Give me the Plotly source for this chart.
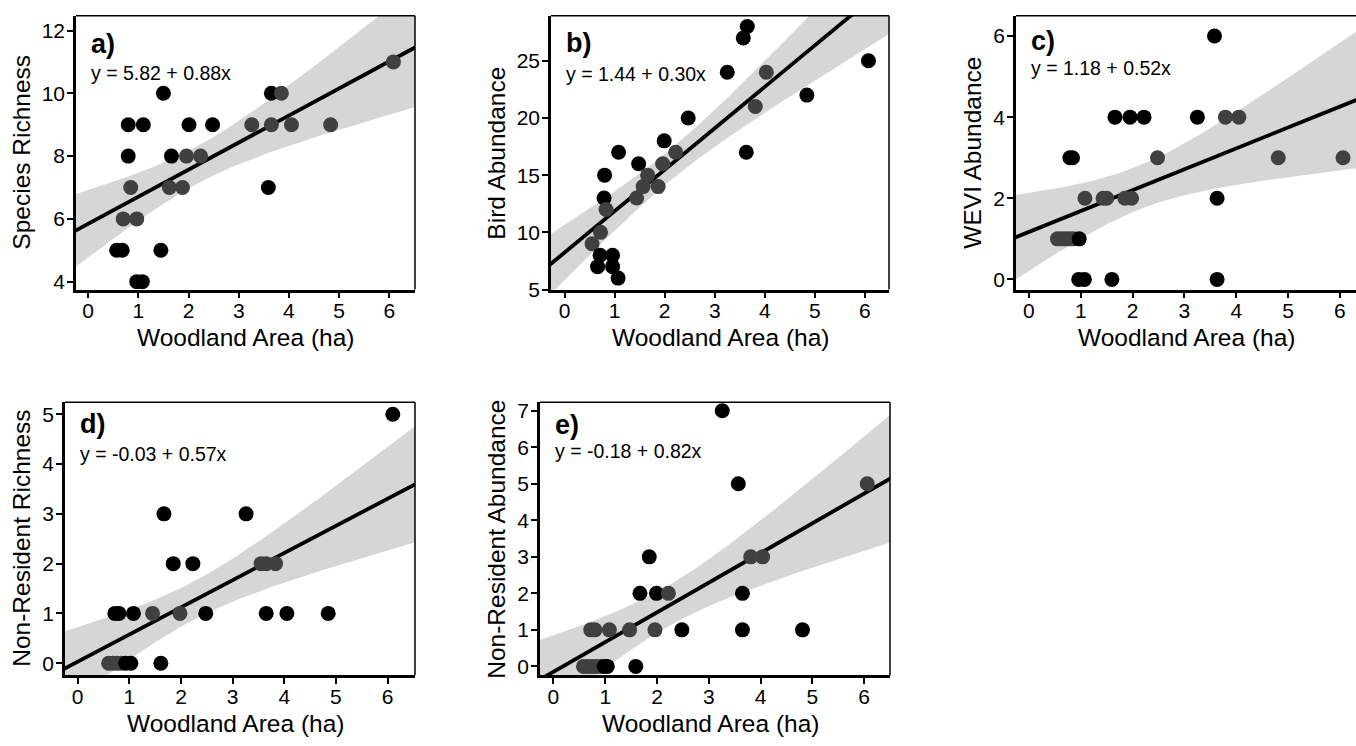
import numpy as np
import plotly.graph_objects as go

W, H = 1356, 746

# ---------------- data ----------------
# group: 1 = black point, 0 = dark-grey point
a_x = [6.08, 1.50, 3.65, 3.85, 0.80, 1.10, 2.01, 2.48, 3.26, 3.65, 4.05, 4.83, 0.80, 1.66, 1.96, 2.24,
       0.85, 1.62, 1.88, 3.59, 0.70, 0.97, 0.57, 0.68, 1.45, 0.97, 1.08]
a_y = [11, 10, 10, 10, 9, 9, 9, 9, 9, 9, 9, 9, 8, 8, 8, 8, 7, 7, 7, 7, 6, 6, 5, 5, 5, 4, 4]
a_g = [0, 1, 1, 0, 1, 1, 1, 1, 0, 0, 0, 0, 1, 1, 0, 0, 0, 0, 0, 1, 0, 0, 1, 1, 1, 1, 1]

b_x = [3.65, 3.57, 6.07, 3.25, 4.03, 4.84, 3.81, 2.47, 1.99, 1.08, 2.22, 3.63, 1.48, 1.96, 0.80, 1.66,
       1.57, 1.87, 1.44, 0.79, 0.83, 0.72, 0.55, 0.71, 0.96, 0.66, 0.96, 1.07]
b_y = [28, 27, 25, 24, 24, 22, 21, 20, 18, 17, 17, 17, 16, 16, 15, 15, 14, 14, 13, 13, 12, 10, 9, 8, 8, 7, 7, 6]
b_g = [1, 1, 1, 1, 0, 1, 0, 1, 1, 1, 0, 1, 1, 0, 1, 0, 0, 0, 0, 1, 0, 0, 0, 1, 1, 1, 1, 1]

c_x = [3.58, 1.66, 1.95, 2.22, 3.25, 3.79, 4.05, 0.79, 0.84, 2.48, 4.81, 6.06, 1.08, 1.43, 1.50, 1.85,
       1.98, 3.63, 0.55, 0.63, 0.71, 0.79, 0.86, 0.97, 0.96, 1.07, 1.60, 3.63]
c_y = [6, 4, 4, 4, 4, 4, 4, 3, 3, 3, 3, 3, 2, 2, 2, 2, 2, 2, 1, 1, 1, 1, 1, 1, 0, 0, 0, 0]
c_g = [1, 1, 1, 1, 1, 0, 0, 1, 1, 0, 0, 0, 0, 0, 0, 0, 0, 1, 0, 0, 0, 0, 0, 1, 1, 1, 1, 1]

d_x = [6.10, 1.67, 3.26, 1.85, 2.23, 3.55, 3.65, 3.83, 0.72, 0.80, 1.08, 1.45, 1.98, 2.48, 3.65, 4.05,
       4.85, 0.60, 0.68, 0.76, 0.84, 0.93, 1.03, 1.61]
d_y = [5, 3, 3, 2, 2, 2, 2, 2, 1, 1, 1, 1, 1, 1, 1, 1, 1, 0, 0, 0, 0, 0, 0, 0]
d_g = [1, 1, 1, 1, 1, 0, 0, 0, 1, 1, 1, 0, 0, 1, 1, 1, 1, 0, 0, 0, 0, 1, 1, 1]

e_x = [3.26, 3.57, 6.06, 1.85, 3.81, 4.04, 1.67, 1.99, 2.22, 3.65, 0.72, 0.80, 1.08, 1.47, 1.96, 2.48,
       3.65, 4.81, 0.58, 0.66, 0.74, 0.82, 0.90, 0.98, 1.04, 1.59]
e_y = [7, 5, 5, 3, 3, 3, 2, 2, 2, 2, 1, 1, 1, 1, 1, 1, 1, 1, 0, 0, 0, 0, 0, 0, 0, 0]
e_g = [1, 1, 0, 1, 0, 0, 1, 1, 0, 1, 0, 0, 0, 0, 0, 1, 1, 1, 0, 0, 0, 0, 0, 1, 1, 1]

x_ticks = [0, 1, 2, 3, 4, 5, 6]
y_ticks = {
    "a": [4, 6, 8, 10, 12],
    "b": [5, 10, 15, 20, 25],
    "c": [0, 2, 4, 6],
    "d": [0, 1, 2, 3, 4, 5],
    "e": [0, 1, 2, 3, 4, 5, 6, 7],
}
y_titles = {
    "a": "Species Richness",
    "b": "Bird Abundance",
    "c": "WEVI Abundance",
    "d": "Non-Resident Richness",
    "e": "Non-Resident Abundance",
}
equations = {
    "a": "y = 5.82 + 0.88x",
    "b": "y = 1.44 + 0.30x",
    "c": "y = 1.18 + 0.52x",
    "d": "y = -0.03 + 0.57x",
    "e": "y = -0.18 + 0.82x",
}
x_title = "Woodland Area (ha)"

# ---------------- layout geometry (pixels) ----------------
panels = [
    # key, data, box (left, top, right, bottom), x range, y range, ytitle offset, label dy, eq dy, right border
    ("a", (a_x, a_y, a_g), (76, 13, 415, 292), (-0.24, 6.51), (3.75, 12.47), 54, 29, 58, True),
    ("b", (b_x, b_y, b_g), (551, 13, 889, 292), (-0.27, 6.48), (5.0, 28.94), 54, 28, 59, True),
    ("c", (c_x, c_y, c_g), (1016, 13, 1356, 292), (-0.25, 6.31), (-0.25, 6.5), 43, 26, 53, False),
    ("d", (d_x, d_y, d_g), (65, 407, 415, 685), (-0.245, 6.53), (-0.24, 5.24), 43, 22, 53, True),
    ("e", (e_x, e_y, e_g), (540, 407, 890, 685), (-0.26, 6.50), (-0.24, 7.23), 43, 23, 50, True),
]

T_CRIT = 2.06
FONT = "Liberation Sans, Arial, Helvetica, sans-serif"
BAND = "#d6d6d6"
GREY_PT = "#404040"

fig = go.Figure()
layout = dict(
    width=W, height=H, margin=dict(l=0, r=0, t=0, b=0),
    paper_bgcolor="white", plot_bgcolor="white", showlegend=False,
    font=dict(family=FONT, color="black"),
)
annotations = []
shapes = []

for i, (key, (xs, ys, gs), (L, T, R, B), xr, yr, yoff, ldy, edy, rborder) in enumerate(panels):
    n = i + 1
    xa = "x" if n == 1 else f"x{n}"
    ya = "y" if n == 1 else f"y{n}"
    xs_a = np.array(xs, float)
    ys_a = np.array(ys, float)

    # least-squares fit with 95% confidence band
    slope, intercept = np.polyfit(xs_a, ys_a, 1)
    resid = ys_a - (intercept + slope * xs_a)
    npts = len(xs_a)
    s = np.sqrt(np.sum(resid ** 2) / (npts - 2))
    xm = xs_a.mean()
    sxx = np.sum((xs_a - xm) ** 2)
    grid = np.linspace(xr[0] - 0.05, xr[1] + 0.05, 120)
    fit = intercept + slope * grid
    se = s * np.sqrt(1.0 / npts + (grid - xm) ** 2 / sxx)
    up, lo = fit + T_CRIT * se, fit - T_CRIT * se

    fig.add_trace(go.Scatter(
        x=np.concatenate([grid, grid[::-1]]), y=np.concatenate([up, lo[::-1]]),
        fill="toself", fillcolor=BAND, line=dict(width=0), mode="lines",
        hoverinfo="skip", xaxis=xa, yaxis=ya))
    fig.add_trace(go.Scatter(
        x=grid, y=fit, mode="lines", line=dict(color="black", width=3.8),
        xaxis=xa, yaxis=ya))
    cols = ["black" if g == 1 else GREY_PT for g in gs]
    fig.add_trace(go.Scatter(
        x=xs, y=ys, mode="markers",
        marker=dict(size=15, color=cols, line=dict(width=0)),
        xaxis=xa, yaxis=ya))

    axis_common = dict(
        showgrid=False, zeroline=False, showline=True, linecolor="black", linewidth=2.5,
        ticks="outside", ticklen=6, tickwidth=2, tickcolor="black",
        tickfont=dict(family=FONT, size=21, color="black"),
    )
    layout["xaxis" if n == 1 else f"xaxis{n}"] = dict(
        domain=[L / W, R / W], range=list(xr), tickvals=x_ticks,
        anchor=ya, ticklabelstandoff=-5, **axis_common)
    layout["yaxis" if n == 1 else f"yaxis{n}"] = dict(
        domain=[1 - B / H, 1 - T / H], range=list(yr), tickvals=y_ticks[key],
        anchor=xa, ticklabelstandoff=-2, **axis_common)

    # thin box border (top and right)
    shapes.append(dict(type="line", xref=f"{xa} domain", yref=f"{ya} domain",
                       x0=0, x1=1, y0=1, y1=1, line=dict(color="black", width=1.5)))
    if rborder:
        shapes.append(dict(type="line", xref=f"{xa} domain", yref=f"{ya} domain",
                           x0=1, x1=1, y0=0, y1=1, line=dict(color="black", width=1.5)))

    # panel letter and equation
    annotations.append(dict(text=f"<b>{key})</b>", xref="paper", yref="paper",
                            x=(L + 13) / W, y=1 - (T + ldy) / H, xanchor="left", yanchor="middle",
                            showarrow=False, font=dict(family=FONT, size=27, color="black")))
    annotations.append(dict(text=equations[key], xref="paper", yref="paper",
                            x=(L + 13) / W, y=1 - (T + edy) / H, xanchor="left", yanchor="middle",
                            showarrow=False, font=dict(family=FONT, size=19.5, color="black")))
    # axis titles
    annotations.append(dict(text=y_titles[key], xref="paper", yref="paper",
                            x=(L - yoff) / W, y=1 - (T + B) / 2 / H, textangle=-90,
                            xanchor="center", yanchor="middle", showarrow=False,
                            font=dict(family=FONT, size=24.5, color="black")))
    annotations.append(dict(text=x_title, xref="paper", yref="paper",
                            x=(L + min(R, L + 340)) / 2 / W, y=1 - (B + 49) / H,
                            xanchor="center", yanchor="middle", showarrow=False,
                            font=dict(family=FONT, size=24.5, color="black")))

layout["annotations"] = annotations
layout["shapes"] = shapes
fig.update_layout(**layout)
fig.write_html(
    "out.html",
    config={"displayModeBar": False},
    post_script="document.body.style.margin='0';document.body.style.overflow='hidden';",
)
